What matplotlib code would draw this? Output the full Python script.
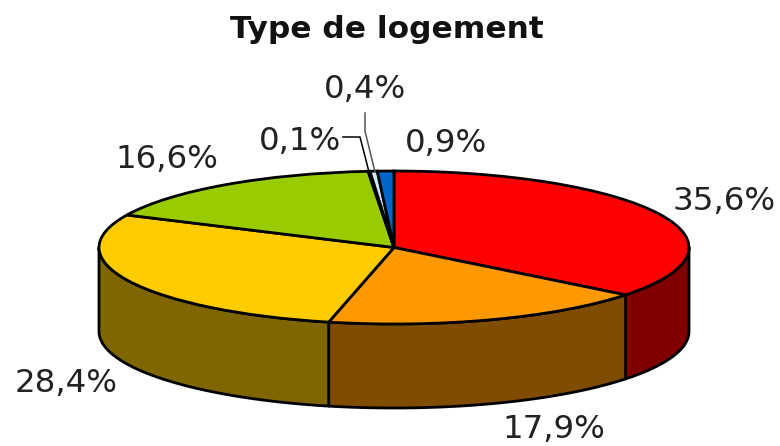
import numpy as np
import matplotlib
matplotlib.use("Agg")
import matplotlib.pyplot as plt
from matplotlib.patches import Polygon

title = "Type de logement"
values = [35.6, 17.9, 28.4, 16.6, 0.1, 0.4, 0.9]
labels = ["35,6%", "17,9%", "28,4%", "16,6%", "0,1%", "0,4%", "0,9%"]
top_colors = ["#ff0000", "#ff9900", "#ffcc00", "#99cc00", "#ffffff", "#cce8ff", "#0066cc"]
wall_colors = ["#800000", "#804d00", "#806600", "#4d6600", "#808080", "#667480", "#003366"]

W, H = 780, 446
cx, cy, rx, ry = 394, 247.5, 295, 76.5
depth = 84 / ry

fig = plt.figure(figsize=(W / 100, H / 100), dpi=100)
ax = fig.add_axes([0, 0, 1, 1])

# side walls first, only the part facing us (lower half of the ellipse)
fracs = np.cumsum([0] + values) / sum(values) * 2 * np.pi
for i in range(len(values)):
    a0, a1 = fracs[i], fracs[i + 1]
    lo, hi = max(a0, np.pi / 2), min(a1, 3 * np.pi / 2)
    if lo >= hi:
        continue
    t = np.linspace(lo, hi, 80)
    xs, ys = np.sin(t), np.cos(t)
    pts = np.r_[np.c_[xs, ys], np.c_[xs[::-1], ys[::-1] - depth]]
    ax.add_patch(Polygon(pts, closed=True, facecolor=wall_colors[i], edgecolor="black", lw=2.0, joinstyle="round"))

# top face, stretched to an ellipse through the axes limits below
ax.pie(values, colors=top_colors, startangle=90, counterclock=False, radius=1,
       wedgeprops={"edgecolor": "black", "linewidth": 2.0})

ax.set_aspect("auto")
ax.set_xlim(-cx / rx, (W - cx) / rx)
ax.set_ylim((cy - H) / ry, cy / ry)
ax.axis("off")


def px(x, y):
    return (x - cx) / rx, (cy - y) / ry


# leader lines for the two small slices
lead1 = np.array([px(343, 137), px(360, 137), px(369, 172)])
lead2 = np.array([px(365, 113), px(365, 131), px(375, 172)])
ax.plot(lead1[:, 0], lead1[:, 1], color="black", lw=1.1)
ax.plot(lead2[:, 0], lead2[:, 1], color="#555555", lw=1.1)

label_pos = [(724, 202), (554, 429), (66, 383), (167, 160), (300, 142), (365, 90), (446, 143)]
for lab, (x, y) in zip(labels, label_pos):
    lx, ly = px(x, y)
    ax.text(lx, ly, lab, fontsize=23.4, color="#222222", ha="center", va="center")

tx, ty = px(387, 29)
ax.text(tx, ty, title, fontsize=22.5, fontweight="bold", color="#111111", ha="center", va="center")

fig.savefig("out.png", dpi=100)
